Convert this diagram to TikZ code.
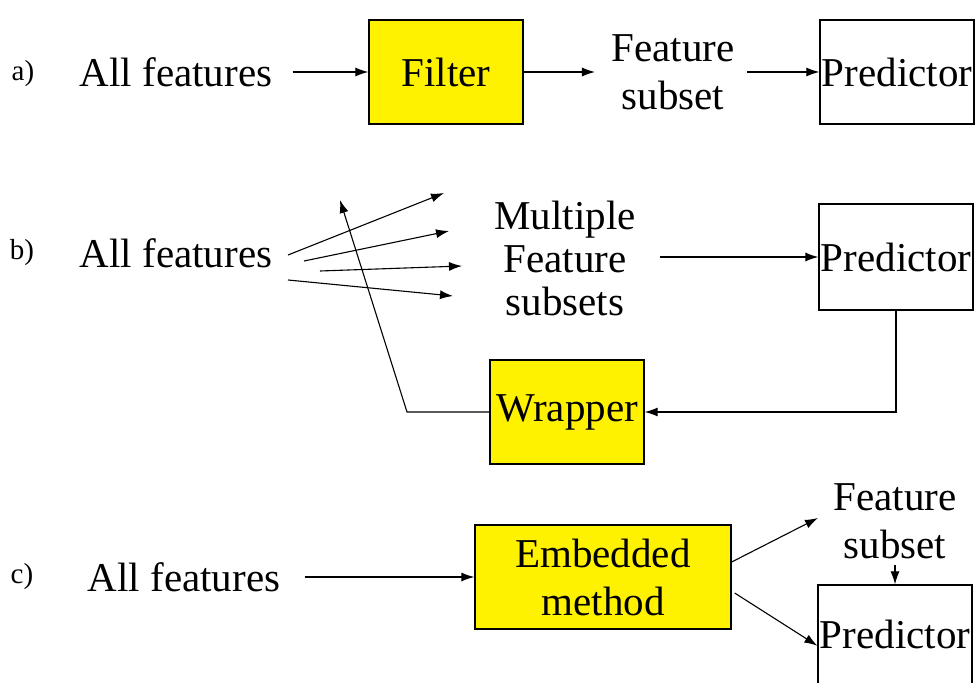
\documentclass[tikz,border=0pt]{standalone}
\usepackage{fontspec}
\setmainfont{Liberation Serif}
\usetikzlibrary{arrows.meta}

\begin{document}
\begin{tikzpicture}[
        x=1pt, y=-1pt,
        font=\fontsize{41}{48}\selectfont,
        line width=1.1pt,
        >={Latex[length=13pt, width=9pt]},
        txt/.style = {inner sep=0pt, align=center},
        tag/.style = {inner sep=0pt, font=\fontsize{29}{32}\selectfont},
        base/.style = {draw, line width=1.3pt, inner sep=0pt, align=center,
                       minimum width=154pt, minimum height=104pt},
        block/.style = {base, fill=yellow},
        ]
        \fill [white] (0,0) rectangle (976,682);
        \useasboundingbox (0,0) rectangle (976,682);
        % a) filter
        \node [tag] (la) at (23,74) {a)};
        \node [txt] (fa) at (176,72) {All features};
        \node [block] (F) at (446,72) {Filter};
        \node [txt] (sa) at (673,72) {Feature\\subset};
        \node [base] (Pa) at (897,72) {Predictor};
        \draw [->] ([xshift=20pt]fa.east) -- (F.west);
        \draw [->] (F.east) -- ([xshift=-16pt]sa.west);
        \draw [->] ([xshift=12pt]sa.east) -- (Pa.west);
        % b) wrapper
        \node [tag] (lb) at (22,253) {b)};
        \node [txt] (fb) at (176,253) {All features};
        \node [txt, font=\fontsize{41}{43}\selectfont] (sb) at (565,258)
            {Multiple\\Feature\\subsets};
        \node [base, minimum height=106pt] (Pb) at (896,257) {Predictor};
        \node [block] (W) at (567,412) {Wrapper};
        \coordinate (s1) at (288,255); \coordinate (t1) at (444,193);
        \coordinate (s2) at (304,261); \coordinate (t2) at (449,231);
        \coordinate (s3) at (320,271); \coordinate (t3) at (462,266);
        \coordinate (s4) at (288,280); \coordinate (t4) at (453,296);
        \coordinate (bend) at (407,412);
        \coordinate (back) at (340,200);
        \draw [->] (s1) edge (t1)
                   (s2) edge (t2)
                   (s3) edge (t3)
                   (s4) edge (t4)
            ([xshift=24pt]sb.east |- Pb.west) -- (Pb.west);
        \draw [->] (Pb.south) |- (W.east);
        \draw [->] (W.west) -- (bend) -- (back);
        % c) embedded
        \node [tag] (lc) at (22,577) {c)};
        \node [txt] (fc) at (184,577) {All features};
        \node [block, minimum width=256pt] (E) at (603,577) {Embedded\\method};
        \node [txt] (sc) at (895,521) {Feature\\subset};
        \node [base, minimum height=0pt, text height=63pt, text depth=60pt,
               anchor=base] (Pc) at (895,648) {Predictor};
        \draw [->] ([xshift=24pt]fc.east) -- (E.west);
        \draw [->] ([yshift=15pt]E.east) -- ([xshift=-15pt,yshift=3pt]sc.west);
        \draw [->] ([xshift=3pt,yshift=-16pt]E.east) -- (Pc.mid west);
        \draw [->] ([yshift=-6pt]sc.south) -- (Pc.north);
\end{tikzpicture}
\end{document}
